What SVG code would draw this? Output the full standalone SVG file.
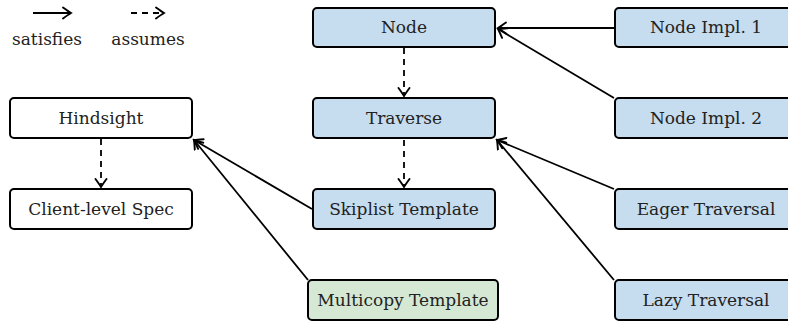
<svg xmlns="http://www.w3.org/2000/svg" width="788" height="323" viewBox="0 0 788 323">
<defs>
<style>
.box{stroke:#000;stroke-width:2;}
.blue{fill:#c6dcef;}
.green{fill:#d5e8d4;}
.white{fill:#fff;}
.lbl{font-family:'DejaVu Serif','Liberation Serif',serif;font-size:17px;fill:#222;text-anchor:middle;}
.edge{stroke:#000;stroke-width:1.8;fill:none;}
.dash{stroke-dasharray:6 5;}
</style>
<marker id="arr" viewBox="-9 -7 11 14" markerWidth="11" markerHeight="14" refX="0" refY="0" orient="auto" markerUnits="userSpaceOnUse">
<path d="M -8 -5.5 Q -2.5 -1.5 0 0 Q -2.5 1.5 -8 5.5" fill="none" stroke="#000" stroke-width="1.9" stroke-linecap="round"/>
</marker>
</defs>
<g id="legend">
<line class="edge" x1="33" y1="13" x2="71" y2="13" marker-end="url(#arr)"/>
<text class="lbl" x="47" y="45">satisfies</text>
<line class="edge dash" x1="131" y1="13" x2="164" y2="13" marker-end="url(#arr)"/>
<text class="lbl" x="148" y="45">assumes</text>
</g>
<g id="connectors">
<line class="edge dash" x1="404" y1="48" x2="404" y2="96" marker-end="url(#arr)"/>
<line class="edge dash" x1="404" y1="140" x2="404" y2="187" marker-end="url(#arr)"/>
<line class="edge dash" x1="101" y1="139" x2="101" y2="187" marker-end="url(#arr)"/>
<line class="edge" x1="615" y1="28" x2="498" y2="28" marker-end="url(#arr)"/>
<line class="edge" x1="614" y1="98" x2="498" y2="29" marker-end="url(#arr)"/>
<line class="edge" x1="312" y1="209" x2="194" y2="140" marker-end="url(#arr)"/>
<line class="edge" x1="308" y1="280" x2="194" y2="140" marker-end="url(#arr)"/>
<line class="edge" x1="614" y1="189" x2="497" y2="140" marker-end="url(#arr)"/>
<line class="edge" x1="614" y1="280" x2="497" y2="140" marker-end="url(#arr)"/>
</g>
<g id="node"><rect class="box blue" x="313" y="8" width="182" height="39" rx="4"/><text class="lbl" x="404" y="33">Node</text></g>
<g id="node-impl-1"><rect class="box blue" x="615" y="8" width="182" height="39" rx="4"/><text class="lbl" x="706" y="33">Node Impl. 1</text></g>
<g id="traverse"><rect class="box blue" x="313" y="98" width="182" height="40" rx="4"/><text class="lbl" x="404" y="124">Traverse</text></g>
<g id="node-impl-2"><rect class="box blue" x="615" y="98" width="182" height="40" rx="4"/><text class="lbl" x="706" y="124">Node Impl. 2</text></g>
<g id="hindsight"><rect class="box white" x="10" y="98" width="182" height="40" rx="4"/><text class="lbl" x="101" y="124">Hindsight</text></g>
<g id="client-spec"><rect class="box white" x="10" y="189" width="182" height="40" rx="4"/><text class="lbl" x="101" y="215">Client-level Spec</text></g>
<g id="skiplist"><rect class="box blue" x="313" y="189" width="182" height="40" rx="4"/><text class="lbl" x="404" y="215">Skiplist Template</text></g>
<g id="eager"><rect class="box blue" x="615" y="189" width="182" height="40" rx="4"/><text class="lbl" x="706" y="215">Eager Traversal</text></g>
<g id="multicopy"><rect class="box green" x="308" y="280" width="190" height="40" rx="4"/><text class="lbl" x="403" y="306">Multicopy Template</text></g>
<g id="lazy"><rect class="box blue" x="615" y="280" width="182" height="40" rx="4"/><text class="lbl" x="706" y="306">Lazy Traversal</text></g>
</svg>
